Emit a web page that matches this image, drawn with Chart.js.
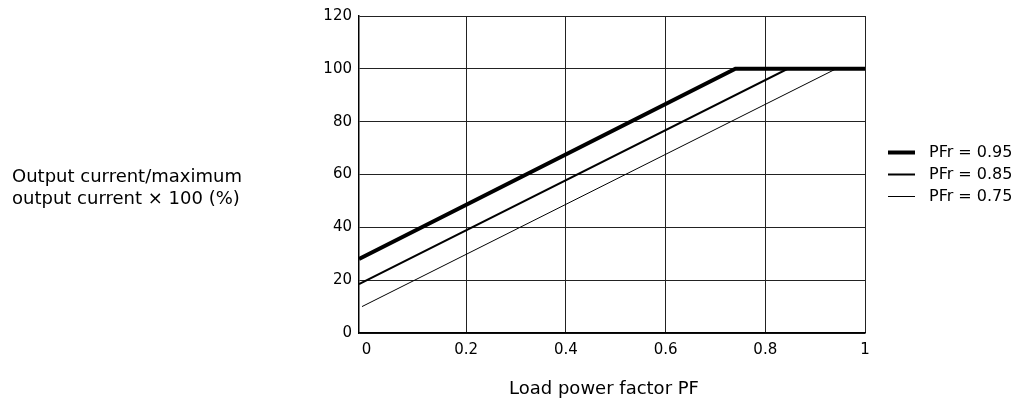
<!DOCTYPE html>
<html>
<head>
<meta charset="utf-8">
<script src="https://cdn.jsdelivr.net/npm/chart.js@4/dist/chart.umd.min.js"></script>
<style>
  html, body { margin: 0; background: #fff; }
  #wrap { width: 1018px; height: 400px; }
</style>
</head>
<body>
<div id="wrap"><canvas id="pfChart"></canvas></div>
<script>
// load power factor PF (x) against output current in % (y), one pair per rated PF
const pfr95X = [-0.015, 0.74, 1];
const pfr95Y = [28, 100, 100];
const pfr85X = [-0.015, 0.845, 1];
const pfr85Y = [18.5, 100, 100];
const pfr75X = [-0.009, 0.942, 1];
const pfr75Y = [10, 100, 100];

const seriesLabels = ['PFr = 0.95', 'PFr = 0.85', 'PFr = 0.75'];
const xTicks = [0, 0.2, 0.4, 0.6, 0.8, 1];
const xTickLabels = ['0', '0.2', '0.4', '0.6', '0.8', '1'];
const yTicks = [0, 20, 40, 60, 80, 100, 120];
const xTitle = 'Load power factor PF';
const yTitleLines = ['Output current/maximum', 'output current \u00d7 100 (%)'];

const FONT = 'DejaVu Sans';

//turns two arrays into {x, y} points
function toPoints(xs, ys){
    return xs.map(function(x, i){ return {x: x, y: ys[i]}; });
}

function makeSeries(label, xs, ys, width){
    return {
        label: label,
        data: toPoints(xs, ys),
        showLine: true,
        borderColor: '#000',
        borderWidth: width,
        pointRadius: 0,
        tension: 0,
        fill: false
    };
}

//draws the axis titles and the legend at the side of the plot
const sideText = {
    id: 'sideText',
    afterDraw(chart){
        const ctx = chart.ctx;
        const area = chart.chartArea;
        ctx.save();
        ctx.fillStyle = '#000';
        ctx.textBaseline = 'middle';

        ctx.font = '18px "' + FONT + '"';
        ctx.textAlign = 'center';
        ctx.fillText(xTitle, (area.left + area.right) / 2 - 8, 389);

        ctx.textAlign = 'left';
        ctx.fillText(yTitleLines[0], 12, 177);
        ctx.fillText(yTitleLines[1], 12, 199);

        // legend
        ctx.font = '16px "' + FONT + '"';
        const midY = (area.top + area.bottom) / 2;
        chart.data.datasets.forEach(function(ds, i){
            const y = midY + (i - 1) * 22;
            ctx.beginPath();
            ctx.lineWidth = ds.borderWidth;
            ctx.strokeStyle = ds.borderColor;
            ctx.moveTo(area.right + 23, y);
            ctx.lineTo(area.right + 50, y);
            ctx.stroke();
            ctx.fillText(ds.label, area.right + 64, y);
        });
        ctx.restore();
    }
};

const pfChart = new Chart(document.getElementById('pfChart'), {
    type: 'scatter',
    data: {
        datasets: [
            makeSeries(seriesLabels[0], pfr95X, pfr95Y, 4),
            makeSeries(seriesLabels[1], pfr85X, pfr85Y, 2),
            makeSeries(seriesLabels[2], pfr75X, pfr75Y, 1)
        ]
    },
    options: {
        responsive: true,
        maintainAspectRatio: false,
        animation: false,
        layout: { padding: { top: 13, right: 153, left: 0, bottom: 0 } },
        plugins: {
            legend: { display: false },
            tooltip: { enabled: false }
        },
        scales: {
            x: {
                type: 'linear',
                min: -0.015,
                max: 1,
                afterBuildTicks: function(scale){
                    scale.ticks = xTicks.map(function(v){ return {value: v}; });
                },
                afterFit: function(scale){ scale.height = 67; },
                ticks: {
                    padding: 8,
                    color: '#000',
                    font: { family: FONT, size: 15 },
                    callback: function(value){
                        const i = xTicks.indexOf(value);
                        return i >= 0 ? xTickLabels[i] : '';
                    }
                },
                grid: {
                    drawTicks: false,
                    lineWidth: 1,
                    color: function(c){
                        return (c.tick && c.tick.value === 0) ? 'rgba(0,0,0,0)' : '#222';
                    }
                },
                border: { display: true, color: '#000', width: 1.5 }
            },
            y: {
                min: 0,
                max: 120,
                afterBuildTicks: function(scale){
                    scale.ticks = yTicks.map(function(v){ return {value: v}; });
                },
                afterFit: function(scale){ scale.width = 359; },
                ticks: {
                    padding: 7,
                    color: '#000',
                    font: { family: FONT, size: 15 }
                },
                grid: {
                    drawTicks: false,
                    lineWidth: 1,
                    color: '#222'
                },
                border: { display: true, color: '#000', width: 1.5 }
            }
        }
    },
    plugins: [sideText]
});
</script>
</body>
</html>
